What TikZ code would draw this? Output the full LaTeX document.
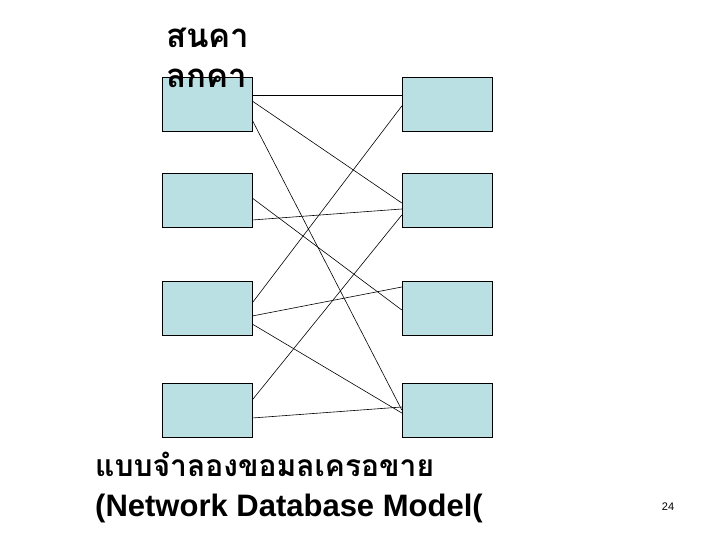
\documentclass[tikz,border=0pt]{standalone}
\usepackage{fontspec}
\setmainfont{Liberation Sans}
\newfontfamily\thaifont[Script=Thai]{Loma}
\tikzset{
  rec/.style = {draw=black, fill={rgb,255:red,187;green,224;blue,227},
    minimum width=90pt, minimum height=54pt, inner sep=0pt},
  link/.style = {draw=black, line width=0.6pt}
}
\begin{document}
\begin{tikzpicture}[x=1pt,y=-1pt]
  \useasboundingbox (0,0) rectangle (720,540);
  % left and right columns
  \foreach \i/\y in {1/104,2/200,3/308,4/410}{
    \node [rec] (l\i) at (207,\y) {};
    \node [rec] (r\i) at (447,\y) {};
  }
  \draw [link] (l1.east |- 0,95) -- (r1.west |- 0,95);
  \draw [link] (l1.east |- 0,101) -- (r2.west |- 0,203);
  \draw [link] (l1.east |- 0,120) -- (r4.west |- 0,410);
  \draw [link] (l2.east |- 0,198) -- (r3.west |- 0,310);
  \draw [link] (l2.east |- 0,220) -- (r2.west |- 0,209);
  \draw [link] (l3.east |- 0,303) -- (r1.west |- 0,106);
  \draw [link] (l3.east |- 0,316) -- (r3.west |- 0,287);
  \draw [link] (l3.east |- 0,324) -- (r4.west |- 0,413);
  \draw [link] (l4.east |- 0,400) -- (r2.west |- 0,215);
  \draw [link] (l4.east |- 0,418) -- (r4.west |- 0,407);
  % labels
  \node [anchor=north west, align=left, inner sep=0pt, font=\thaifont\bfseries\fontsize{33}{40}\selectfont] (top) at (166,28) {สนคา\\ลกคา};
  \node [anchor=west, inner sep=0pt, font=\thaifont\bfseries\fontsize{30}{34}\selectfont] (cap1) at (95,464) {แบบจำลองขอมลเครอขาย};
  \node [anchor=west, inner sep=0pt, font=\bfseries\fontsize{31}{34}\selectfont] (cap2) at (95,508) {(Network Database Model(};
  \node [inner sep=0pt, font=\fontsize{11}{13}\selectfont] (num) at (668,507) {24};
\end{tikzpicture}
\end{document}
